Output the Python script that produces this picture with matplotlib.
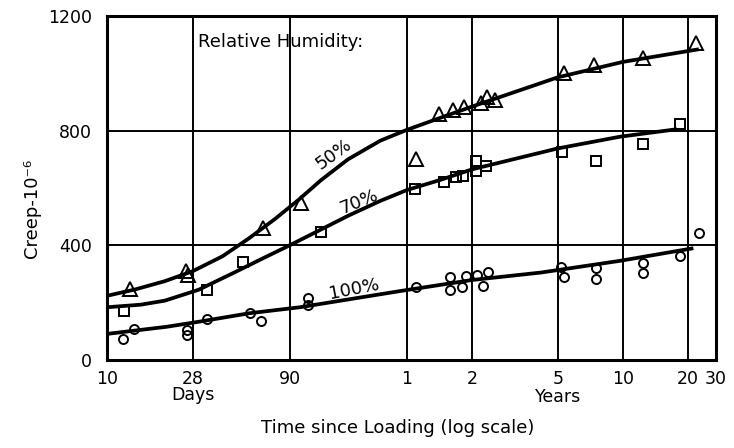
import numpy as np
import matplotlib
matplotlib.use('Agg')
import matplotlib.pyplot as plt


#######################
###   Data          ###
#######################

# time since loading in days, creep in 10^-6
rh50_days = [13.1, 25.8, 26.5, 65, 103, 402, 515, 594, 671, 804, 857, 935, 1941, 2675, 4540, 7960]
rh50_creep = [247, 310, 295, 459, 547, 700, 857, 872, 884, 895, 916, 907, 1000, 1029, 1052, 1107]

rh70_days = [12.2, 33, 50.8, 130.6, 398, 543, 615, 660, 762, 762, 847, 1901, 2744, 4508, 6670]
rh70_creep = [172, 243, 341, 445, 595, 620, 639, 643, 695, 660, 677, 724, 694, 752, 822]

rh100_days = [12.1, 13.9, 26.2, 26.2, 33, 55.5, 63.5, 112, 112, 402, 578, 578, 653, 684, 769, 818, 867,
              1880, 1940, 2744, 2744, 4540, 4540, 6710, 8240]
rh100_creep = [73, 109, 105, 87, 142, 163, 137, 215, 192, 254, 288, 244, 254, 293, 296, 258, 308,
               323, 288, 320, 283, 339, 302, 363, 444]

# fitted curves as drawn in the original
fit50_days = [10, 14, 20, 28, 40, 55, 75, 100, 130, 180, 265, 365, 500, 730, 1820, 3652, 8200]
fit50_creep = [224, 246, 275, 310, 362, 425, 492, 560, 627, 700, 765, 803, 840, 884, 986, 1040, 1084]

fit70_days = [10, 15, 20, 30, 45, 65, 90, 130, 180, 265, 365, 520, 730, 1820, 3540, 6490]
fit70_creep = [184, 193, 207, 245, 302, 355, 401, 455, 503, 555, 593, 628, 665, 738, 779, 805]

fit100_days = [10, 20.5, 30.4, 55, 101, 340, 730, 1520, 3540, 7730]
fit100_creep = [91, 116, 134, 163, 184, 241, 279, 305, 346, 390]

tick_days = [10, 28, 90, 365, 730, 1826, 3652, 7305]
tick_labels = ['10', '28', '90', '1', '2', '5', '10', '20']


#######################
###   Scale         ###
#######################

# log scale, the years part of the original axis is a bit stretched
LK = np.log10(365.0)
STRETCH = 216.0 / 192.0

def fwd(d):
    L = np.log10(np.maximum(d, 1e-9))
    return np.where(L <= LK, L, LK + (L - LK) * STRETCH)

def inv(v):
    return np.where(v <= LK, 10.0 ** v, 10.0 ** (LK + (v - LK) / STRETCH))


#######################
###   Plotting      ###
#######################

plt.rcParams['font.family'] = 'DejaVu Sans'

fig = plt.figure(figsize=(7.34, 4.48), dpi=100)
fig.subplots_adjust(left=107/734, right=716/734, bottom=1-360/448, top=1-16/448)
ax = fig.add_subplot(1, 1, 1)

ax.set_xscale('function', functions=(fwd, inv))
ax.set_xlim(10, 9840)
ax.set_ylim(0, 1200)

ax.set_xticks(tick_days)
ax.set_xticklabels(tick_labels)
ax.set_yticks([0, 400, 800, 1200])
ax.minorticks_off()
ax.tick_params(length=0, labelsize=12.5, colors='black')
ax.tick_params(axis='x', pad=7)
ax.tick_params(axis='y', pad=11)
ax.grid(True, color='black', lw=1.4)
ax.set_axisbelow(True)
for s in ax.spines.values():
    s.set_linewidth(2.2)

# curves
for d, c in [(fit50_days, fit50_creep), (fit70_days, fit70_creep), (fit100_days, fit100_creep)]:
    ax.plot(d, c, color='black', lw=2.7, zorder=3, solid_capstyle='butt', solid_joinstyle='round')

# measured points
ax.plot(rh50_days, rh50_creep, '^', ms=9.5, mfc='none', mec='black', mew=1.4, zorder=4)
ax.plot(rh70_days, rh70_creep, 's', ms=6.5, mfc='none', mec='black', mew=1.4, zorder=4)
ax.plot(rh100_days, rh100_creep, 'o', ms=6.5, mfc='none', mec='black', mew=1.4, zorder=4)

# annotations
ax.text(29.8, 1109, 'Relative Humidity:', fontsize=13, ha='left', va='center')
ax.text(152, 718, '50%', fontsize=13, rotation=36, ha='center', va='center')
ax.text(206, 551, '70%', fontsize=13, rotation=22, ha='center', va='center')
ax.text(194, 248, '100%', fontsize=13, rotation=11, ha='center', va='center')

ax.annotate('30', xy=(1.0, 0.0), xycoords='axes fraction', xytext=(0, -7),
            textcoords='offset points', ha='center', va='top', fontsize=12.5)

trans = ax.get_xaxis_transform()
ax.text(28, -0.102, 'Days', transform=trans, ha='center', va='center', fontsize=12.5)
ax.text(1826, -0.108, 'Years', transform=trans, ha='center', va='center', fontsize=12.5)

fig.text(398/734, 1-428/448, 'Time since Loading (log scale)', ha='center', va='center', fontsize=13)
fig.text(32/734, 1-208/448, 'Creep-10\u207b\u2076', rotation=90, ha='center', va='center', fontsize=13)

plt.savefig('out.png', dpi=100)
